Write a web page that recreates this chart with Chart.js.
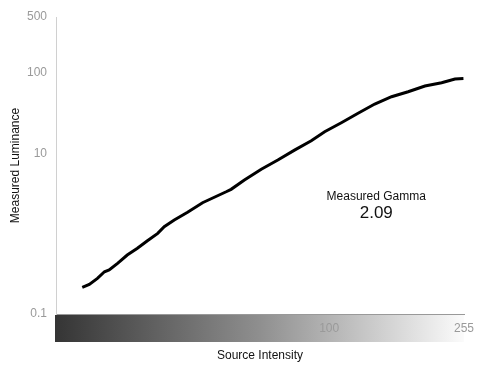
<!DOCTYPE html>
<html>
<head>
<meta charset="utf-8">
<script src="https://cdn.jsdelivr.net/npm/chart.js@4/dist/chart.umd.min.js"></script>
<style>
  body { margin: 0; background: #fff; }
  #wrap { width: 484px; height: 375px; }
</style>
</head>
<body>
<div id="wrap"><canvas id="gammaChart" width="484" height="375"></canvas></div>
<script>
// source intensity (log axis) and measured luminance
const sourceIntensity = [18.0, 18.9, 20.0, 21.0, 21.7, 23.0, 24.6, 26.4, 28.3, 30.4, 31.8, 34.1, 37.4, 41.5,
    48.9, 50.6, 55.5, 62.4, 70.0, 78.6, 88.3, 96.9, 108.8, 122.2, 137.2, 154.2, 173.0, 194.4, 218.3, 239.5, 254]
const measuredLuminance = [0.215, 0.234, 0.278, 0.336, 0.353, 0.428, 0.543, 0.658, 0.818, 1.01, 1.22, 1.48, 1.85, 2.43,
    3.33, 3.57, 4.66, 6.34, 8.28, 11.0, 14.4, 18.6, 24.1, 31.6, 41.2, 50.8, 58.7, 69.1, 75.9, 84.4, 85.5]
const xTicks = [100, 255]
const yTicks = [0.1, 10, 100, 500]
const gammaText = ["Measured Gamma", "2.09"]

Chart.defaults.font.family = 'Arial, "Liberation Sans", sans-serif'
Chart.defaults.font.size = 12

// grey ramp under the x axis, labels get drawn on top of it
const rampBar = {
    id: 'rampBar',
    beforeDraw(chart) {
        const {ctx, chartArea} = chart
        const grad = ctx.createLinearGradient(chartArea.left, 0, chartArea.right, 0)
        grad.addColorStop(0, '#353535')
        grad.addColorStop(0.5, '#8f8f8f')
        grad.addColorStop(1, '#fbfbfb')
        ctx.save()
        ctx.fillStyle = grad
        ctx.fillRect(chartArea.left - 1, chartArea.bottom + 1, chartArea.right - chartArea.left + 1, 27)
        ctx.restore()
    }
}

const gammaLabel = {
    id: 'gammaLabel',
    afterDraw(chart) {
        const {ctx, chartArea} = chart
        const cx = chartArea.left + (chartArea.right - chartArea.left) * 0.785
        ctx.save()
        ctx.fillStyle = '#111'
        ctx.textAlign = 'center'
        ctx.textBaseline = 'middle'
        ctx.font = '12px Arial, "Liberation Sans", sans-serif'
        ctx.fillText(gammaText[0], cx, 197)
        ctx.font = '17px Arial, "Liberation Sans", sans-serif'
        ctx.fillText(gammaText[1], cx, 213)
        ctx.restore()
    }
}

const chart = new Chart(document.getElementById('gammaChart'), {
    type: 'line',
    data: {
        datasets: [{
            data: sourceIntensity.map((x, i) => ({x: x, y: measuredLuminance[i]})),
            borderColor: '#000',
            borderWidth: 3,
            pointRadius: 0,
            tension: 0,
            fill: false,
        }]
    },
    options: {
        responsive: false,
        animation: false,
        layout: { padding: {top: 17, right: 20, left: 0, bottom: 0} },
        plugins: { legend: {display: false}, tooltip: {enabled: false} },
        scales: {
            x: {
                type: 'logarithmic',
                min: 15,
                max: 255,
                afterBuildTicks: (scale) => { scale.ticks = xTicks.map(v => ({value: v})) },
                afterFit: (scale) => { scale.height = 61 },
                grid: { display: false, drawTicks: false },
                border: { display: true, color: '#999' },
                ticks: { color: '#9a9a9a', padding: 7, maxRotation: 0, callback: (v) => String(v) },
                title: { display: true, text: 'Source Intensity', color: '#111', padding: {top: 4, bottom: 12} },
            },
            y: {
                type: 'logarithmic',
                min: 0.1,
                max: 500,
                afterBuildTicks: (scale) => { scale.ticks = yTicks.map(v => ({value: v})) },
                afterFit: (scale) => { scale.width = 56 },
                grid: { display: false, drawTicks: false },
                border: { display: true, color: '#d0d0d0' },
                ticks: { color: '#9a9a9a', padding: 9, callback: (v) => String(v) },
                title: { display: true, text: 'Measured Luminance', color: '#111', padding: {top: 8, bottom: 4} },
            }
        }
    },
    plugins: [rampBar, gammaLabel]
})
</script>
</body>
</html>
